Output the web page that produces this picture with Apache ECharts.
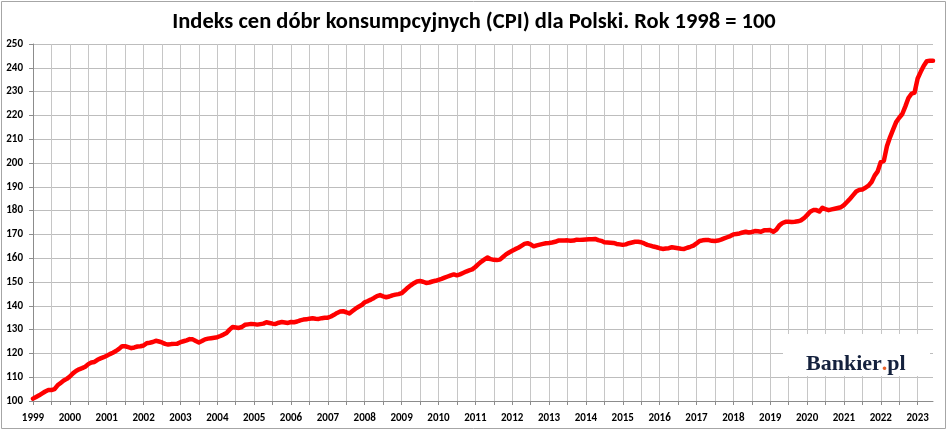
<!DOCTYPE html>
<html>
<head>
<meta charset="utf-8">
<script src="https://cdn.jsdelivr.net/npm/echarts/dist/echarts.min.js"></script>
<style>
html,body{margin:0;padding:0;background:#fff;}
#c{width:948px;height:432px;}
</style>
</head>
<body>
<div id="c"></div>
<script>
// ---- data ----
const chartTitle = 'Indeks cen dóbr konsumpcyjnych (CPI) dla Polski. Rok 1998 = 100';
const watermark = ['Bankier', '.', 'pl'];
const years = [1999,2000,2001,2002,2003,2004,2005,2006,2007,2008,2009,2010,2011,2012,2013,2014,2015,2016,2017,2018,2019,2020,2021,2022,2023];
const cpi1999 = [101.0,101.7,102.4,103.2,104.0,104.6,104.6,105.0,106.6,107.6,108.6,109.3];
const cpi2000 = [110.3,111.6,112.6,113.3,113.8,114.4,115.5,116.2,116.4,117.3,117.9,118.4];
const cpi2001 = [119.0,119.7,120.3,121.0,121.9,123.0,123.0,122.6,122.2,122.5,122.9,123.0];
const cpi2002 = [123.3,124.3,124.5,124.8,125.3,125.0,124.6,124.0,123.7,123.9,124.0,124.1];
const cpi2003 = [124.7,125.1,125.5,126.0,125.9,125.2,124.6,125.2,125.9,126.2,126.4,126.6];
const cpi2004 = [126.8,127.3,127.9,128.6,130.0,131.1,130.9,130.7,131.1,132.0,132.2,132.4];
const cpi2005 = [132.3,132.1,132.3,132.5,133.1,132.8,132.5,132.4,132.9,133.2,133.0,132.8];
const cpi2006 = [133.2,133.1,133.4,133.9,134.2,134.3,134.6,134.8,134.6,134.5,134.8,135.0];
const cpi2007 = [135.0,135.5,136.2,137.0,137.6,137.7,137.3,136.8,137.8,138.8,139.6,140.3];
const cpi2008 = [141.5,142.0,142.6,143.3,144.1,144.5,144.0,143.6,143.9,144.4,144.7,144.9];
const cpi2009 = [145.3,146.4,147.6,148.6,149.5,150.2,150.4,150.1,149.6,149.8,150.2,150.5];
const cpi2010 = [150.9,151.3,151.8,152.3,152.8,153.2,152.8,153.2,153.8,154.4,154.9,155.3];
const cpi2011 = [156.3,157.5,158.6,159.5,160.3,159.6,159.3,159.2,159.4,160.5,161.6,162.4];
const cpi2012 = [163.1,163.8,164.4,165.2,166.0,166.3,165.8,165.0,165.4,165.7,166.0,166.3];
const cpi2013 = [166.4,166.6,166.9,167.4,167.4,167.4,167.5,167.3,167.4,167.8,167.7,167.8];
const cpi2014 = [167.9,168.0,168.0,168.1,167.6,167.3,166.7,166.6,166.5,166.4,166.0,165.8];
const cpi2015 = [165.6,165.8,166.3,166.6,166.9,166.9,166.7,166.2,165.6,165.3,164.9,164.6];
const cpi2016 = [164.2,163.9,164.1,164.2,164.6,164.4,164.2,164.0,163.9,164.4,164.8,165.3];
const cpi2017 = [166.2,167.2,167.5,167.6,167.6,167.3,167.2,167.4,167.8,168.3,168.8,169.3];
const cpi2018 = [170.0,170.2,170.4,170.8,171.1,170.8,171.0,171.4,171.3,171.1,171.7,171.7];
const cpi2019 = [171.8,171.1,172.0,173.8,174.8,175.3,175.3,175.2,175.3,175.5,175.9,176.8];
const cpi2020 = [178.1,179.5,180.2,180.2,179.6,181.2,180.6,180.2,180.5,180.8,181.1,181.4];
const cpi2021 = [182.3,183.6,185.0,186.5,188.0,188.7,188.9,189.6,190.5,192.0,194.7,196.5];
const cpi2022 = [200.4,200.9,207.0,210.8,214.0,217.2,219.0,220.6,223.8,227.3,229.1,229.6];
const cpi2023 = [235.5,238.3,240.9,242.8,243.0,243.0];
const yMin = 100, yMax = 250, yStep = 10;

// ---- build category axis + series from the arrays ----
const perYear = [cpi1999,cpi2000,cpi2001,cpi2002,cpi2003,cpi2004,cpi2005,cpi2006,cpi2007,cpi2008,cpi2009,cpi2010,cpi2011,cpi2012,cpi2013,cpi2014,cpi2015,cpi2016,cpi2017,cpi2018,cpi2019,cpi2020,cpi2021,cpi2022,cpi2023];
const categories = [];
const values = [];
years.forEach((y, i) => {
  perYear[i].forEach((v, m) => {
    categories.push(y + '-' + String(m + 1).padStart(2, '0'));
    values.push(v);
  });
});

const FONT = 'Carlito, Lato, "Open Sans", sans-serif';
const chart = echarts.init(document.getElementById('c'), null, {renderer: 'canvas'});
chart.setOption({
  backgroundColor: '#ffffff',
  animation: false,
  title: {
    text: chartTitle,
    left: 'center',
    top: 6,
    textStyle: {fontFamily: FONT, fontSize: 22.5, fontWeight: 'bold', color: '#000'}
  },
  grid: {left: 33, right: 15, top: 44, bottom: 31, containLabel: false},
  xAxis: {
    type: 'category',
    data: categories,
    boundaryGap: false,
    axisLine: {show: true, lineStyle: {color: '#8c8c8c', width: 1}},
    axisTick: {show: true, length: 4, interval: (i) => i % 6 === 0, lineStyle: {color: '#8c8c8c'}},
    axisLabel: {
      interval: (i) => i % 12 === 0,
      formatter: (v) => v.slice(0, 4),
      margin: 12,
      fontFamily: FONT, fontSize: 11, fontWeight: 'bold', color: '#000'
    },
    splitLine: {show: true, interval: (i) => i % 6 === 0, lineStyle: {color: '#c6c6c6', width: 1}}
  },
  yAxis: {
    type: 'value',
    min: yMin, max: yMax, interval: yStep,
    axisLine: {show: true, lineStyle: {color: '#8c8c8c', width: 1}},
    axisTick: {show: true, length: 4, lineStyle: {color: '#8c8c8c'}},
    axisLabel: {margin: 10, fontFamily: FONT, fontSize: 11, fontWeight: 'bold', color: '#000'},
    splitLine: {show: true, lineStyle: {color: '#bdbdbd', width: 1}}
  },
  series: [{
    type: 'line',
    data: values,
    showSymbol: false,
    symbol: 'none',
    smooth: false,
    lineStyle: {color: '#ff0000', width: 4.5, cap: 'round', join: 'round'},
    itemStyle: {color: '#ff0000'},
    z: 3
  }],
  graphic: [
    {type: 'rect', z: 50, silent: true,
     shape: {x: 1.5, y: 1.5, width: 944, height: 427},
     style: {fill: 'none', stroke: '#a6a6a6', lineWidth: 1}},
    {type: 'rect', z: 50, silent: true,
     shape: {x: 783, y: 334, width: 147, height: 42},
     style: {fill: '#ffffff', stroke: 'none'}},
    {type: 'text', z: 51, silent: true, x: 806, y: 364,
     style: {
       text: '{a|' + watermark[0] + '}{b|' + watermark[1] + '}{a|' + watermark[2] + '}',
       verticalAlign: 'middle', align: 'left',
       rich: {
         a: {fontFamily: '"Liberation Serif", "DejaVu Serif", serif', fontWeight: 'bold', fontSize: 22, fill: '#14213d', color: '#14213d'},
         b: {fontFamily: '"Liberation Serif", "DejaVu Serif", serif', fontWeight: 'bold', fontSize: 22, fill: '#e8622a', color: '#e8622a'}
       }
     }}
  ]
});
</script>
</body>
</html>
